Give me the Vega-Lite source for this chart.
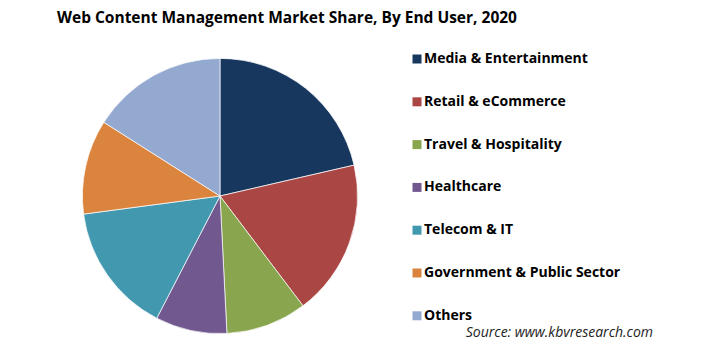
{
  "$schema": "https://vega.github.io/schema/vega-lite/v6.json",
  "padding": {"left": 57, "top": 10, "right": 51, "bottom": 6},
  "background": "white",
  "title": {
    "text": "Web Content Management Market Share, By End User, 2020",
    "anchor": "start",
    "font": "Open Sans",
    "fontSize": 15.5,
    "fontWeight": "bold",
    "color": "#000000",
    "offset": 26
  },
  "vconcat": [
    {
      "width": 326,
      "height": 280,
      "title": {
        "text": "Source: www.kbvresearch.com",
        "orient": "bottom",
        "anchor": "end",
        "frame": "bounds",
        "font": "Open Sans",
        "fontStyle": "italic",
        "fontWeight": "normal",
        "fontSize": 14,
        "color": "#222222",
        "offset": -10,
        "dx": 270
      },
      "data": {
        "values": [
          {"segment": "Media & Entertainment", "share": 21.4, "order": 1},
          {"segment": "Retail & eCommerce", "share": 18.3, "order": 2},
          {"segment": "Travel & Hospitality", "share": 9.5, "order": 3},
          {"segment": "Healthcare", "share": 8.4, "order": 4},
          {"segment": "Telecom & IT", "share": 15.3, "order": 5},
          {"segment": "Government & Public Sector", "share": 11.1, "order": 6},
          {"segment": "Others", "share": 16.0, "order": 7}
        ]
      },
      "mark": {"type": "arc", "outerRadius": 137.6, "stroke": "#ffffff", "strokeWidth": 0.7},
      "encoding": {
        "theta": {"field": "share", "type": "quantitative", "stack": true},
        "order": {"field": "order", "type": "quantitative"},
        "color": {
          "field": "segment",
          "type": "nominal",
          "sort": null,
          "scale": {
            "domain": ["Media & Entertainment", "Retail & eCommerce", "Travel & Hospitality", "Healthcare", "Telecom & IT", "Government & Public Sector", "Others"],
            "range": ["#17375E", "#AA4643", "#89A54E", "#71588F", "#4198AF", "#DB843D", "#93A9CF"]
          },
          "legend": {
            "title": null,
            "orient": "none",
            "legendX": 353,
            "legendY": -4,
            "symbolType": "square",
            "symbolSize": 81,
            "symbolStrokeWidth": 0,
            "labelFont": "Open Sans",
            "labelFontSize": 14,
            "labelFontWeight": "bold",
            "labelColor": "#000000",
            "labelOffset": 0,
            "labelLimit": 0,
            "rowPadding": 28.8,
            "padding": 0
          }
        }
      }
    }
  ],
  "config": {"view": {"stroke": null}}
}
